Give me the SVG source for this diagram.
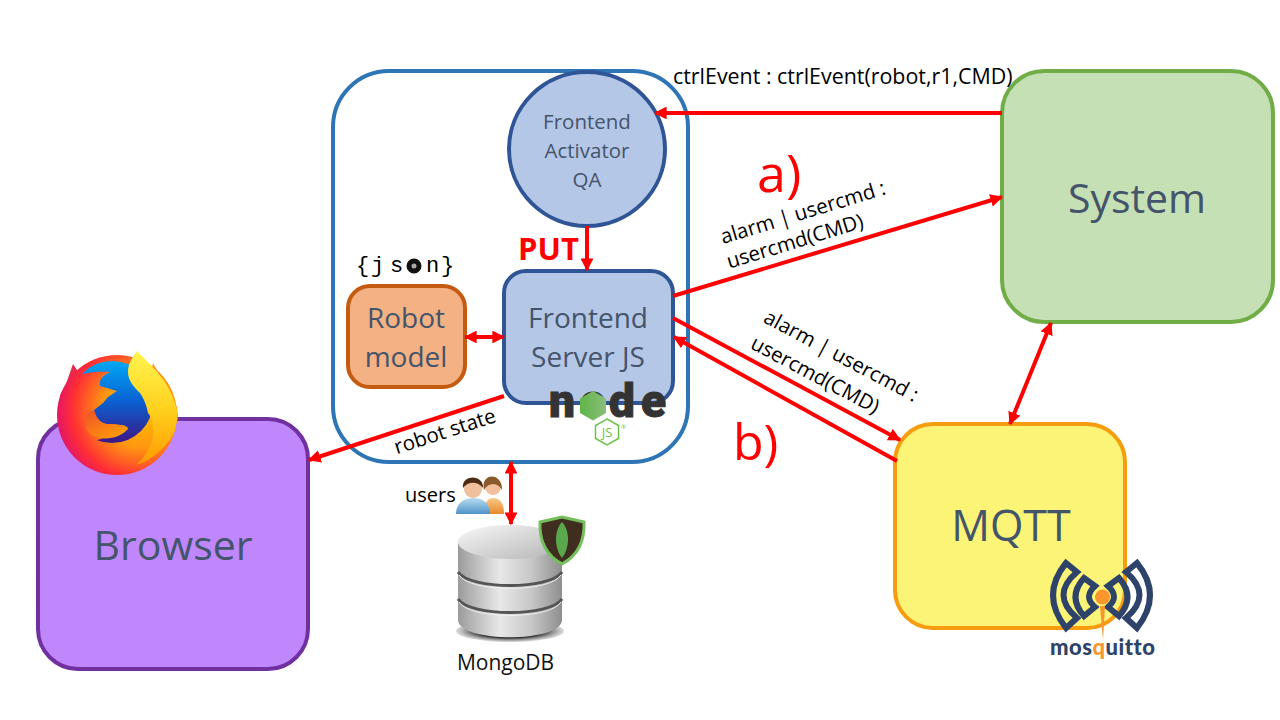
<svg xmlns="http://www.w3.org/2000/svg" width="1280" height="720" viewBox="0 0 1280 720">
<style>
text{font-family:"Open Sans","Noto Sans",sans-serif}
.n{fill:#44546a;text-anchor:middle}
.l{fill:#000;font-size:20.500px}
.c{stroke:#f00;stroke-width:4;fill:none;marker-end:url(#a)}
.d{marker-start:url(#a)}
.r{fill:#f00}
</style>
<defs>
<marker id="a" markerWidth="3.2" markerHeight="3.2" refX="2.9" refY="1.6" orient="auto-start-reverse"><path d="M0,0L3.2,1.6L0,3.2Z" fill="#f00"/></marker>
<radialGradient id="ffb" gradientUnits="userSpaceOnUse" cx="140" cy="410" r="85"><stop offset="0" stop-color="#ffc400"/><stop offset=".45" stop-color="#ff9510"/><stop offset=".8" stop-color="#ff2e35"/><stop offset="1" stop-color="#e0146a"/></radialGradient>
<linearGradient id="ffg" x1="0" y1="0" x2="0" y2="1"><stop offset="0" stop-color="#00a8f5"/><stop offset=".5" stop-color="#0a5fd0"/><stop offset="1" stop-color="#3d1785"/></linearGradient>
<linearGradient id="ffy" x1="0" y1="0" x2="0" y2="1"><stop offset="0" stop-color="#fff44f"/><stop offset=".5" stop-color="#ffd21f"/><stop offset="1" stop-color="#ff9a00"/></linearGradient>
<linearGradient id="ffh" x1="0" y1="0" x2="1" y2="1"><stop offset="0" stop-color="#f0502a"/><stop offset="1" stop-color="#ffa800"/></linearGradient>
<linearGradient id="db" x1="0" y1="0" x2="1" y2="0"><stop offset="0" stop-color="#9b9b9b"/><stop offset=".4" stop-color="#e8e8e8"/><stop offset=".7" stop-color="#c8c8c8"/><stop offset="1" stop-color="#8e8e8e"/></linearGradient>
<linearGradient id="dbt" x1="0" y1="0" x2="1" y2="1"><stop offset="0" stop-color="#f8f8f8"/><stop offset="1" stop-color="#b5b5b5"/></linearGradient>
<linearGradient id="man" x1="0" y1="0" x2="0" y2="1"><stop offset="0" stop-color="#b9dcf0"/><stop offset="1" stop-color="#4f93c9"/></linearGradient>
<linearGradient id="wom" x1="0" y1="0" x2="0" y2="1"><stop offset="0" stop-color="#fbc98a"/><stop offset="1" stop-color="#e8892a"/></linearGradient>
<linearGradient id="hex" x1="0" y1="0" x2="1" y2="0"><stop offset="0" stop-color="#5fb548"/><stop offset="1" stop-color="#8bbd7a"/></linearGradient>
<radialGradient id="dbs"><stop offset=".6" stop-color="#222"/><stop offset="1" stop-color="#888" stop-opacity=".3"/></radialGradient>
</defs>

<g id="frontend-container"><rect x="333" y="71" width="355" height="391" rx="56" fill="#fff" stroke="#2e75b6" stroke-width="4"/></g>

<g id="activator"><ellipse cx="587" cy="149" rx="78" ry="77" fill="#b4c7e7" stroke="#2f5597" stroke-width="4"/>
<text class="n" x="587" y="129" font-size="20.500">Frontend</text><text class="n" x="587" y="158" font-size="20.500">Activator</text><text class="n" x="587" y="187" font-size="20.500">QA</text></g>

<g id="robot-model"><rect x="348" y="286" width="117" height="101" rx="22" fill="#f4b183" stroke="#c55a11" stroke-width="4"/>
<text class="n" x="406" y="328" font-size="28">Robot</text><text class="n" x="406" y="367" font-size="28">model</text>
<text x="356 371 390 407 426 441" y="272" style="font-family:'Liberation Mono',monospace" font-size="22">{json}</text>
<circle cx="414" cy="266" r="5" fill="#aaa" stroke="#111" stroke-width="5"/></g>

<g id="frontend-server"><rect x="504" y="271" width="169" height="132" rx="22" fill="#b4c7e7" stroke="#2f5597" stroke-width="4"/>
<text class="n" x="588" y="328" font-size="28">Frontend</text><text class="n" x="588" y="367" font-size="28">Server JS</text>
<text x="549 580 609 641" y="417" font-size="46" style="font-family:Roboto,sans-serif" font-weight="900" fill="#333" stroke="#333" stroke-width="1">node</text>
<path d="M593,391L606,398.500V413L593,420.500L580,413V398.500Z" fill="url(#hex)"/>
<path d="M607,419L618.500,425.500V438.500L607,445L595.500,438.500V425.500Z" fill="#fff" stroke="#6cc24a" stroke-width="1.500"/>
<text x="607" y="437" font-size="13" text-anchor="middle" fill="#6cc24a">JS</text>
<text x="621" y="429" font-size="6" fill="#6cc24a">®</text></g>

<g id="browser"><rect x="38" y="419" width="270" height="250" rx="40" fill="#bf87fb" stroke="#7030a0" stroke-width="4"/>
<text class="n" x="173" y="560" font-size="41">Browser</text>
<path d="M66,384L73,364L79,373L72,392Z" fill="#e8294a"/><path d="M153,363L158,372L150,378Z" fill="#ff9a1f"/><path d="M177,405L178,420L172,422Z" fill="#ff7a1f"/>
<circle cx="117" cy="415" r="60" fill="url(#ffb)"/>
<circle cx="112" cy="402" r="41" fill="url(#ffg)"/>
<path d="M70,378C84,372 98,371 110,372C102,376 99,380 100,386L117,391L108,397L103,403L94,410C94,418 100,423 110,425C118,425 125,424 128,428C124,433 118,434 112,435L95,441L60,425L60,395Z" fill="url(#ffb)"/>
<path d="M94,410C84,412 82,426 90,434C100,441 118,440 128,429C125,424 115,424 106,424C100,423 96,417 94,410Z" fill="url(#ffh)"/>
<path d="M137,351C150,365 170,380 177,410C178,425 174,436 167,443C160,452 148,462 136,465C148,455 155,438 153,427C152,418 149,414 148,413C146,402 142,396 140,393C133,386 128,380 128,372C128,364 132,358 137,351Z" fill="url(#ffy)"/></g>

<g id="system"><rect x="1002" y="71" width="271" height="251" rx="42" fill="#c5e0b4" stroke="#70ad47" stroke-width="4"/>
<text class="n" x="1137" y="213" font-size="41">System</text></g>

<g id="mqtt"><rect x="895" y="424" width="230" height="204" rx="38" fill="#fbf476" stroke="#f59d0e" stroke-width="4"/>
<text class="n" x="1011" y="541" font-size="43">MQTT</text>
<g fill="none" stroke="#2e4369" stroke-width="6" stroke-linejoin="miter"><g id="mq-side"><path d="M1066,563L1077,572Q1050,595 1077,618L1066,628Q1040,595 1066,563Z"/><path d="M1084,578L1095,586Q1083,597 1095,607L1084,616Q1067,597 1084,578Z"/></g><use href="#mq-side" transform="matrix(-1 0 0 1 2203 0)"/></g>
<path d="M1100,606L1105,606L1103,640Z" fill="#f8962d"/><circle cx="1102.500" cy="597" r="7.500" fill="#f8962d"/>
<text x="1050" y="655" font-size="22" font-weight="900" fill="#2e4369" style="font-family:Lato,sans-serif" letter-spacing=".5">mos<tspan fill="#f8962d">q</tspan>uitto</text></g>

<g id="mongodb">
<ellipse cx="510" cy="631" rx="54" ry="11" fill="url(#dbs)"/>
<path d="M458,543V620C458,643 562,643 562,620V543Z" fill="url(#db)"/>
<path d="M458,572C470,590 550,590 562,572" fill="none" stroke="#555" stroke-width="3"/><path d="M459,575C470,593 550,593 561,575" fill="none" stroke="#eee" stroke-width="1"/>
<path d="M458,599C470,617 550,617 562,599" fill="none" stroke="#555" stroke-width="3"/><path d="M459,602C470,620 550,620 561,602" fill="none" stroke="#eee" stroke-width="1"/>
<ellipse cx="510" cy="542" rx="52" ry="17" fill="url(#dbt)"/>
<path d="M540,522L562,517L584,522C585,545 575,557 562,564C549,557 539,545 540,522Z" fill="#3f2d1f" stroke="#74bf5c" stroke-width="3"/>
<path d="M562,522C570,530 570,548 562,558C554,548 554,530 562,522Z" fill="#5aa84c"/>
<text class="n" x="505.500" y="670" style="fill:#111" font-size="21">MongoDB</text>
<text x="405" y="502" font-size="20" fill="#000">users</text>
<circle cx="493" cy="487" r="8" fill="#f0c09c"/><path d="M484,490C480,472 503,472 502,490C498,482 488,482 484,490Z" fill="#8a5a2c"/>
<path d="M484,514C484,502 488,498 493,498C499,498 504,502 504,514Z" fill="url(#wom)"/>
<circle cx="473" cy="489" r="9" fill="#f0c09c"/><path d="M463,488C461,474 484,474 483,488C478,481 468,481 463,488Z" fill="#4d2c14"/>
<path d="M456,514C456,504 463,498 473,498C484,498 490,504 490,514Z" fill="url(#man)"/>
</g>

<g id="connectors">
<path class="c" d="M1002,113H655"/>
<path class="c" d="M587,226V270"/>
<path class="c" d="M673,296L1002,197"/>
<path class="c" d="M673,318L900,440"/>
<path class="c" d="M897,461L674,337"/>
<path class="c d" d="M465,337H504"/>
<path class="c d" d="M1051,323L1010,424"/>
<path class="c" d="M504,396L309,460"/>
<path class="c d" d="M511,462V524"/>
<text class="l" x="673" y="84" style="font-size:21.400px">ctrlEvent : ctrlEvent(robot,r1,CMD)</text>
<text class="l" text-anchor="middle" transform="translate(805,219) rotate(-17)">alarm | usercmd :</text>
<text class="l" text-anchor="middle" transform="translate(797,248) rotate(-17)">usercmd(CMD)</text>
<text class="l" text-anchor="middle" transform="translate(838,362) rotate(28)">alarm | usercmd :</text>
<text class="l" text-anchor="middle" transform="translate(812,381) rotate(28)">usercmd(CMD)</text>
<text class="l" text-anchor="middle" transform="translate(447,438) rotate(-18)">robot state</text>
<text class="r" x="518" y="260" font-size="31" font-weight="700">PUT</text>
<text class="r" x="757" y="192" font-size="52">a)</text>
<text class="r" x="733" y="460" font-size="50">b)</text>
</g>
</svg>
